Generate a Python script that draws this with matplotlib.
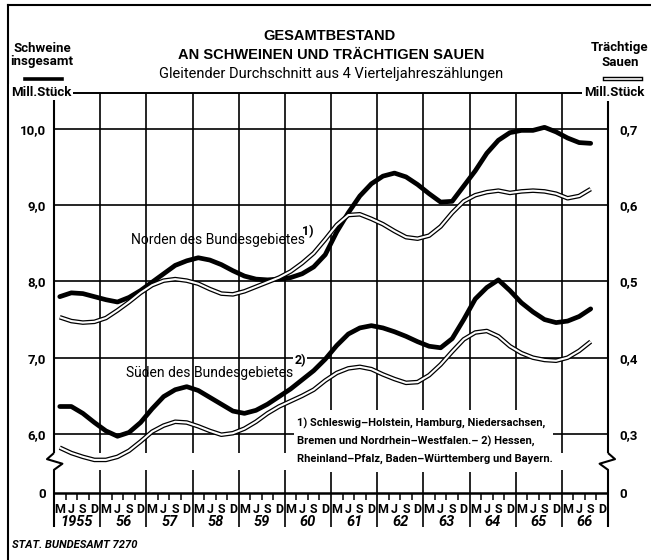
import numpy as np
import matplotlib
matplotlib.use('Agg')
import matplotlib.pyplot as plt
from matplotlib.lines import Line2D
from matplotlib.patches import Rectangle
import matplotlib.transforms as mtransforms

plt.rcParams['font.family'] = ['Roboto', 'DejaVu Sans']

# ---- data: gleitender Durchschnitt, quarterly from Mar 1955 to Sep 1966
years = list(range(1955, 1967))
year_labels = ['1955', '56', '57', '58', '59', '60', '61', '62', '63', '64', '65', '66']
months = ['M', 'J', 'S', 'D']

# Schweine insgesamt, Mill. Stück (left axis)
nord_schweine = [7.80, 7.85, 7.84, 7.80, 7.76, 7.73, 7.79, 7.88, 7.99, 8.10, 8.21, 8.27,
                 8.31, 8.28, 8.22, 8.14, 8.07, 8.03, 8.02, 8.03, 8.05, 8.10, 8.19, 8.35,
                 8.65, 8.90, 9.12, 9.28, 9.38, 9.42, 9.37, 9.27, 9.15, 9.04, 9.05, 9.25,
                 9.45, 9.68, 9.85, 9.95, 9.98, 9.98, 10.02, 9.96, 9.88, 9.82, 9.81]
sued_schweine = [6.36, 6.36, 6.27, 6.15, 6.04, 5.97, 6.02, 6.15, 6.33, 6.49, 6.58, 6.62,
                 6.57, 6.48, 6.39, 6.30, 6.27, 6.31, 6.39, 6.49, 6.59, 6.71, 6.83, 6.98,
                 7.16, 7.31, 7.39, 7.42, 7.39, 7.34, 7.28, 7.21, 7.15, 7.13, 7.25, 7.50,
                 7.77, 7.92, 8.02, 7.88, 7.72, 7.60, 7.50, 7.46, 7.48, 7.54, 7.64]
# Trächtige Sauen, Mill. Stück (right axis)
nord_sauen = [0.453, 0.448, 0.446, 0.447, 0.452, 0.462, 0.473, 0.485, 0.495, 0.501, 0.503, 0.501,
              0.497, 0.490, 0.484, 0.483, 0.487, 0.493, 0.499, 0.505, 0.513, 0.524, 0.537, 0.555,
              0.574, 0.587, 0.588, 0.582, 0.575, 0.566, 0.558, 0.556, 0.560, 0.572, 0.590, 0.605,
              0.613, 0.617, 0.619, 0.616, 0.618, 0.619, 0.618, 0.615, 0.609, 0.612, 0.621]
sued_sauen = [0.282, 0.275, 0.270, 0.266, 0.266, 0.270, 0.278, 0.290, 0.303, 0.311, 0.316, 0.315,
              0.310, 0.304, 0.299, 0.301, 0.307, 0.316, 0.327, 0.336, 0.343, 0.350, 0.358, 0.370,
              0.380, 0.386, 0.388, 0.385, 0.378, 0.372, 0.367, 0.368, 0.377, 0.391, 0.408, 0.424,
              0.433, 0.435, 0.428, 0.415, 0.406, 0.400, 0.397, 0.396, 0.400, 0.409, 0.421]

left_ticks = [6, 7, 8, 9, 10]
right_ticks = [0.3, 0.4, 0.5, 0.6, 0.7]

t = 1955.125 + 0.25 * np.arange(len(nord_schweine))

# broken axis: "0" sits below the 6,0 line
Y0 = 5.226
YTOP = 10.47
YLOW = 4.78          # year separators run down through the labels
BRK_HI, BRK_LO = 5.75, 5.53

W, H = 651, 560
fig = plt.figure(figsize=(W / 100, H / 100), dpi=100)
ax = fig.add_axes([54 / W, 1 - 493 / H, 554 / W, 400 / H])
ax.set_xlim(1955, 1967)
ax.set_ylim(Y0, YTOP)
ax2 = ax.twinx()
ax2.set_ylim(0.1 * Y0 - 0.3, 0.1 * YTOP - 0.3)
for a in (ax, ax2):
    for s in a.spines.values():
        s.set_visible(False)

K = dict(color='black', clip_on=False, solid_capstyle='butt')

# grid
for v in left_ticks:
    ax.plot([1955, 1967], [v, v], lw=1.2, zorder=1, **K)
for yr in years[1:]:
    ax.plot([yr, yr], [BRK_HI, YTOP], lw=1.2, zorder=1, **K)
    ax.plot([yr, yr], [YLOW, BRK_LO], lw=1.2, zorder=1, **K)

# frame: top, bottom (0 line) and broken side axes
ax.plot([1955, 1967], [YTOP, YTOP], lw=1.4, zorder=1, **K)
ax.plot([1955, 1967], [Y0, Y0], lw=1.8, zorder=1, **K)
dx = 7 / 46.17
for x0, sgn in ((1955, 1), (1967, -1)):
    ax.plot([x0, x0], [BRK_HI, YTOP], lw=1.5, **K)
    ax.plot([x0, x0, x0 - sgn * dx, x0 + sgn * 1.2 * dx, x0, x0],
            [BRK_HI, BRK_HI, 5.67, 5.61, BRK_LO, YLOW], lw=1.5, **K)

# quarter ticks below the 0 line
for yr in years:
    for q in (0.25, 0.5, 0.75):
        ax.plot([yr + q, yr + q], [Y0, Y0 - 0.09], lw=1.1, **K)

# white field behind the footnote
ax.add_patch(Rectangle((1960.2, 5.50), 5.6, 0.82, facecolor='white',
                       edgecolor='none', zorder=2))

# curves
ax.plot(t, nord_schweine, color='black', lw=3.4, zorder=3, solid_capstyle='round')
ax.plot(t, sued_schweine, color='black', lw=3.4, zorder=3, solid_capstyle='round')
for s in (nord_sauen, sued_sauen):
    ax2.plot(t, s, color='black', lw=3.3, zorder=3, solid_capstyle='butt')
    ax2.plot(t, s, color='white', lw=1.5, zorder=4, solid_capstyle='butt')

# y tick labels
tick_font = dict(fontsize=9.5, fontweight='bold')
ax.set_yticks([Y0] + left_ticks)
ax.set_yticklabels(['0'] + ['%d,0' % v for v in left_ticks], **tick_font)
ax.tick_params(axis='y', length=0, pad=6)
ax2.set_yticks([0.1 * Y0 - 0.3] + right_ticks)
ax2.set_yticklabels(['0'] + [('%.1f' % v).replace('.', ',') for v in right_ticks], **tick_font)
ax2.tick_params(axis='y', length=0, pad=8)

# x labels: months and years
ax.set_xticks([yr + 0.125 + 0.25 * i for yr in years for i in range(4)])
ax.set_xticklabels(months * len(years), fontsize=9, fontweight='bold')
ax.tick_params(axis='x', length=0, pad=7)
trans = mtransforms.blended_transform_factory(ax.transData, ax.transAxes)
for yr, lab in zip(years, year_labels):
    ax.text(yr + 0.5, -29 / 400, lab, transform=trans, ha='center', va='center',
            fontsize=10.5, fontweight='bold', style='italic')

# series labels
ax.text(1958.55, 8.54, 'Norden des Bundesgebietes', ha='center', va='center',
        fontsize=10, zorder=5)
ax.text(1960.50, 8.66, '1)', ha='center', va='center', fontsize=9, fontweight='bold', zorder=5)
ax.text(1958.38, 6.80, 'Süden des Bundesgebietes', ha='center', va='center',
        fontsize=10, zorder=5)
ax.text(1960.33, 6.96, '2)', ha='center', va='center', fontsize=9, fontweight='bold', zorder=5,
        bbox=dict(facecolor='white', edgecolor='none', pad=1))

note = ['1) Schleswig\u2013Holstein, Hamburg, Niedersachsen,',
        'Bremen und Nordrhein\u2013Westfalen.\u2013 2) Hessen,',
        'Rheinland\u2013Pfalz, Baden\u2013Württemberg und Bayern.']
for i, line in enumerate(note):
    ax.text(1960.26, 6.14 - 0.236 * i, line, ha='left', va='center', fontsize=8,
            fontweight='bold', zorder=5)

# headers
def px(x, y):
    return x / W, 1 - y / H

fig.text(*px(330, 36), 'GESAMTBESTAND', ha='center', va='center', fontsize=10.5,
         fontweight='bold', family=['Liberation Sans', 'DejaVu Sans'])
fig.text(*px(331, 55), 'AN SCHWEINEN UND TRÄCHTIGEN SAUEN', ha='center', va='center',
         fontsize=10.5, fontweight='bold', family=['Liberation Sans', 'DejaVu Sans'])
fig.text(*px(331, 74), 'Gleitender Durchschnitt aus 4 Vierteljahreszählungen',
         ha='center', va='center', fontsize=10.5)

fig.text(*px(42, 48), 'Schweine', ha='center', va='center', fontsize=9.5, fontweight='bold')
fig.text(*px(42, 62), 'insgesamt', ha='center', va='center', fontsize=9.5, fontweight='bold')
fig.add_artist(Line2D([25 / W, 62 / W], [1 - 79 / H] * 2, color='black', lw=2.6))
fig.text(*px(41, 92), 'Mill.Stück', ha='center', va='center', fontsize=9.5,
         fontweight='bold', bbox=dict(facecolor='white', edgecolor='none', pad=1), zorder=5)

fig.text(*px(620, 48), 'Trächtige', ha='center', va='center', fontsize=9.5, fontweight='bold')
fig.text(*px(620, 63), 'Sauen', ha='center', va='center', fontsize=9.5, fontweight='bold')
fig.add_artist(Line2D([605 / W, 641 / W], [1 - 79 / H] * 2, color='black', lw=3.2))
fig.add_artist(Line2D([605 / W, 641 / W], [1 - 79 / H] * 2, color='white', lw=1.2))
fig.text(*px(614, 93), 'Mill.Stück', ha='center', va='center', fontsize=9.5,
         fontweight='bold', bbox=dict(facecolor='white', edgecolor='none', pad=1), zorder=5)

fig.text(*px(12, 545), 'STAT. BUNDESAMT 7270', ha='left', va='center', fontsize=8,
         fontweight='bold', style='italic')

# outer border (left and top)
fig.add_artist(Line2D([8 / W, 8 / W], [1 - 5 / H, 0], color='black', lw=1.5))
fig.add_artist(Line2D([8 / W, 1], [1 - 5 / H] * 2, color='black', lw=1.5))

fig.savefig('out.png', dpi=100)
